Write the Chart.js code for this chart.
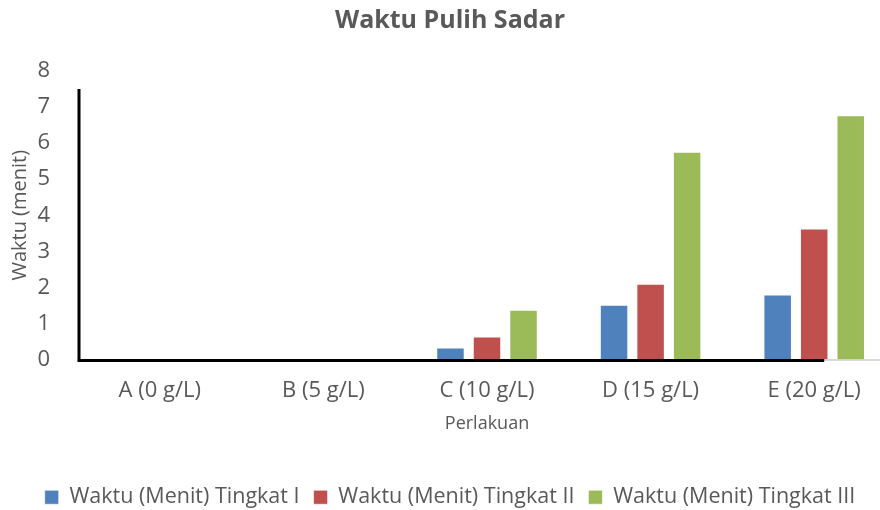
<!DOCTYPE html>
<html>
<head>
<meta charset="utf-8">
<script src="https://cdn.jsdelivr.net/npm/chart.js@4"></script>
<style>
  html, body { margin: 0; padding: 0; background: #fff; overflow: hidden; }
  #wrap { width: 880px; height: 510px; overflow: hidden; }
</style>
</head>
<body>
<div id="wrap"><canvas id="chart" width="896" height="510"></canvas></div>
<script>
// data
const categories = ['A (0 g/L)', 'B (5 g/L)', 'C (10 g/L)', 'D (15 g/L)', 'E (20 g/L)'];
const tingkat1 = [0, 0, 0.33, 1.52, 1.8];
const tingkat2 = [0, 0, 0.64, 2.1, 3.63];
const tingkat3 = [0, 0, 1.38, 5.76, 6.77];
const seriesNames = ['Waktu (Menit) Tingkat I', 'Waktu (Menit) Tingkat II', 'Waktu (Menit) Tingkat III'];

const grey = '#595959';
const font = "'Open Sans', 'Noto Sans', sans-serif";

// black axis lines like the original (drawn over the grey base line)
const axisLines = {
  id: 'axisLines',
  afterDatasetsDraw(chart) {
    const { ctx, chartArea, scales } = chart;
    const y0 = scales.y.getPixelForValue(0);
    ctx.save();
    ctx.strokeStyle = '#000';
    ctx.lineWidth = 3;
    ctx.beginPath();
    ctx.moveTo(chartArea.left + 1, scales.y.getPixelForValue(7.5));
    ctx.lineTo(chartArea.left + 1, y0 + 1);
    ctx.lineTo(scales.x.getPixelForValue(4) + 10, y0 + 1);
    ctx.stroke();
    ctx.restore();
  }
};

new Chart(document.getElementById('chart'), {
  type: 'bar',
  data: {
    labels: categories,
    datasets: [
      { label: seriesNames[0], data: tingkat1, backgroundColor: '#4F81BD' },
      { label: seriesNames[1], data: tingkat2, backgroundColor: '#C0504D' },
      { label: seriesNames[2], data: tingkat3, backgroundColor: '#9BBB59' }
    ]
  },
  options: {
    responsive: false,
    animation: false,
    layout: { padding: { left: 4, right: 0, bottom: -8 } },
    datasets: {
      bar: {
        categoryPercentage: 0.67,
        barPercentage: 0.78,
        borderColor: 'rgba(255,255,255,0.6)',
        borderWidth: 1
      }
    },
    plugins: {
      title: {
        display: true,
        text: 'Waktu Pulih Sadar',
        color: grey,
        font: { family: font, size: 25, weight: 'bold' },
        padding: { top: 6, bottom: 35 }
      },
      legend: {
        position: 'bottom',
        labels: {
          color: grey,
          font: { family: font, size: 21.5 },
          boxWidth: 14,
          boxHeight: 14,
          padding: 14,
          useBorderRadius: false
        }
      },
      tooltip: { enabled: false }
    },
    scales: {
      x: {
        grid: { display: false, drawTicks: false },
        border: { color: '#D9D9D9', width: 2 },
        ticks: { color: grey, font: { family: font, size: 22 }, padding: 18 },
        title: {
          display: true,
          text: 'Perlakuan',
          color: grey,
          font: { family: font, size: 18 },
          padding: { top: 7, bottom: 38 }
        },
        afterFit(scale) { scale.height = 113; }
      },
      y: {
        min: 0,
        max: 8,
        grid: { display: false, drawTicks: false },
        border: { display: false },
        ticks: { stepSize: 1, color: grey, font: { family: font, size: 22 }, padding: 28 },
        title: {
          display: true,
          text: 'Waktu (menit)',
          color: grey,
          font: { family: font, size: 20 },
          padding: { bottom: 0 }
        },
        afterFit(scale) { scale.width = 74; }
      }
    }
  },
  plugins: [axisLines]
});
</script>
</body>
</html>
